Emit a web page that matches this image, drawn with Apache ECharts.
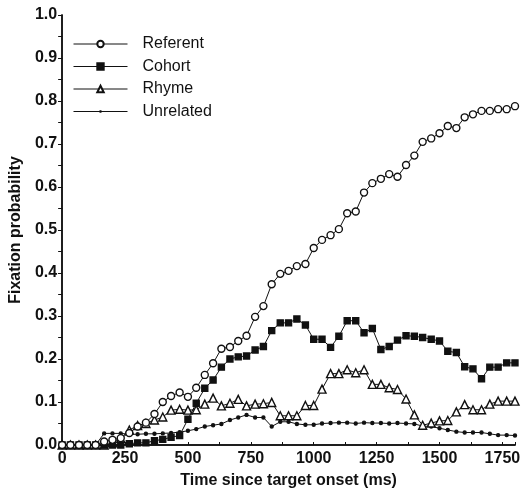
<!DOCTYPE html>
<html>
<head>
<meta charset="utf-8">
<script src="https://cdn.jsdelivr.net/npm/echarts@6/dist/echarts.min.js"></script>
<style>
  html, body { margin: 0; padding: 0; background: #fff; }
  #chart { width: 523px; height: 497px; }
</style>
</head>
<body>
<div id="chart"></div>
<script>
// time since target onset (ms), one sample per video frame
var times = [0, 33, 67, 100, 133, 167, 200, 233, 267, 300, 333, 367, 400, 433, 467, 500, 533, 567, 600, 633,
  667, 700, 733, 767, 800, 833, 867, 900, 933, 967, 1000, 1033, 1067, 1100, 1133, 1167, 1200, 1233, 1267, 1300,
  1333, 1367, 1400, 1433, 1467, 1500, 1533, 1567, 1600, 1633, 1667, 1700, 1733, 1767, 1800];

var referent = [0, 0, 0, 0, 0, 0.008, 0.012, 0.016, 0.028, 0.043, 0.052, 0.072, 0.1, 0.114, 0.122, 0.112, 0.133, 0.163, 0.19, 0.224,
  0.228, 0.242, 0.254, 0.298, 0.323, 0.374, 0.398, 0.405, 0.416, 0.421, 0.458, 0.477, 0.488, 0.502, 0.539, 0.543, 0.587, 0.609, 0.619, 0.63,
  0.624, 0.651, 0.673, 0.705, 0.713, 0.725, 0.742, 0.737, 0.762, 0.769, 0.777, 0.777, 0.781, 0.781, 0.788];

var cohort = [0, 0, 0, 0, 0, 0, 0, 0, 0.003, 0.005, 0.005, 0.01, 0.013, 0.018, 0.022, 0.06, 0.097, 0.132, 0.151, 0.181,
  0.2, 0.205, 0.207, 0.221, 0.229, 0.266, 0.284, 0.284, 0.293, 0.279, 0.246, 0.246, 0.227, 0.253, 0.289, 0.289, 0.261, 0.271, 0.222, 0.229,
  0.244, 0.254, 0.253, 0.25, 0.246, 0.242, 0.218, 0.215, 0.182, 0.177, 0.154, 0.181, 0.181, 0.191, 0.191];

var rhyme = [0, 0, 0, 0, 0, 0, 0.005, 0.015, 0.035, 0.045, 0.05, 0.058, 0.065, 0.081, 0.083, 0.081, 0.082, 0.095, 0.109, 0.091,
  0.097, 0.106, 0.091, 0.095, 0.096, 0.099, 0.068, 0.068, 0.068, 0.092, 0.092, 0.13, 0.166, 0.166, 0.175, 0.168, 0.175, 0.141, 0.141, 0.133,
  0.129, 0.107, 0.07, 0.046, 0.051, 0.056, 0.057, 0.077, 0.094, 0.082, 0.082, 0.095, 0.102, 0.102, 0.102];

var unrelated = [0, 0, 0, 0, 0, 0.027, 0.027, 0.027, 0.025, 0.025, 0.026, 0.026, 0.027, 0.028, 0.03, 0.033, 0.037, 0.043, 0.046, 0.049,
  0.058, 0.064, 0.07, 0.064, 0.064, 0.043, 0.054, 0.054, 0.049, 0.047, 0.047, 0.05, 0.051, 0.052, 0.052, 0.05, 0.052, 0.051, 0.051, 0.05,
  0.051, 0.05, 0.049, 0.044, 0.043, 0.039, 0.035, 0.031, 0.029, 0.029, 0.029, 0.026, 0.023, 0.023, 0.022];

function pairs(values) {
  return times.map(function (t, i) { return [t, values[i]]; });
}

function lineSeries(name, values, symbol, size, fill, z) {
  return {
    name: name,
    type: 'line',
    data: pairs(values),
    symbol: symbol,
    symbolSize: size,
    showSymbol: true,
    z: z,
    animation: false,
    lineStyle: { color: '#111', width: 1 },
    itemStyle: { color: fill, borderColor: '#111', borderWidth: 1.4 }
  };
}

var font = 'Liberation Sans, Arial, sans-serif';
var chart = echarts.init(document.getElementById('chart'));

chart.setOption({
  animation: false,
  grid: { left: 55, right: 5, top: 15, bottom: 52 },
  legend: {
    data: [
      { name: 'Referent' },
      { name: 'Cohort' },
      { name: 'Rhyme' },
      // thin line with a tiny dot, like the plotted marker
      {
        name: 'Unrelated',
        icon: 'path://M0,4.6H54V5.4H0Z M26,3.8H28V6.2H26Z',
        itemStyle: { color: '#111', borderWidth: 0 }
      }
    ],
    orient: 'vertical',
    left: 73,
    top: 36,
    padding: 0,
    itemWidth: 54,
    itemHeight: 8,
    itemGap: 6.5,
    lineStyle: { width: 1 },
    textStyle: { fontFamily: font, fontSize: 16, color: '#111', padding: [0, 0, 0, 10] }
  },
  xAxis: [
    {
      type: 'value',
      min: 0,
      max: 1800,
      interval: 250,
      name: 'Time since target onset (ms)',
      nameLocation: 'middle',
      nameGap: 28,
      nameTextStyle: { fontFamily: font, fontSize: 16, fontWeight: 'bold', color: '#111' },
      axisLine: { lineStyle: { color: '#111', width: 1.5 } },
      axisTick: { inside: true, length: 3, lineStyle: { color: '#111' } },
      minorTick: { show: true, splitNumber: 2, length: 3, lineStyle: { color: '#111' } },
      axisLabel: {
        fontFamily: font, fontSize: 16, fontWeight: 'bold', color: '#111', margin: 6, showMaxLabel: false,
        formatter: function (v) { return String(v); }
      },
      splitLine: { show: false }
    },
    {
      type: 'value',
      position: 'top',
      min: 0,
      max: 1800,
      axisLine: { show: true, lineStyle: { color: '#111', width: 1.5 } },
      axisTick: { show: false },
      axisLabel: { show: false },
      splitLine: { show: false }
    }
  ],
  yAxis: [
    {
      type: 'value',
      min: 0,
      max: 1,
      interval: 0.1,
      name: 'Fixation probability',
      nameLocation: 'middle',
      nameGap: 35,
      nameTextStyle: { fontFamily: font, fontSize: 16, fontWeight: 'bold', color: '#111' },
      axisLine: { show: true, lineStyle: { color: '#111', width: 1.5 } },
      axisTick: { show: true, length: 4, lineStyle: { color: '#111' } },
      minorTick: { show: true, splitNumber: 2, length: 2, lineStyle: { color: '#111' } },
      axisLabel: {
        fontFamily: font, fontSize: 16, fontWeight: 'bold', color: '#111', margin: 5,
        formatter: function (v) { return v.toFixed(1); }
      },
      splitLine: { show: false }
    },
    {
      type: 'value',
      position: 'right',
      min: 0,
      max: 1,
      interval: 0.05,
      axisLine: { show: true, lineStyle: { color: '#111', width: 1.5 } },
      axisTick: { show: true, inside: true, length: 4, lineStyle: { color: '#111' } },
      axisLabel: { show: false },
      splitLine: { show: false }
    }
  ],
  series: [
    lineSeries('Unrelated', unrelated, 'circle', 3, '#111', 2),
    lineSeries('Rhyme', rhyme, 'triangle', 8, '#fff', 3),
    lineSeries('Cohort', cohort, 'rect', 6, '#111', 4),
    lineSeries('Referent', referent, 'circle', 7, '#fff', 5)
  ]
});
</script>
</body>
</html>
